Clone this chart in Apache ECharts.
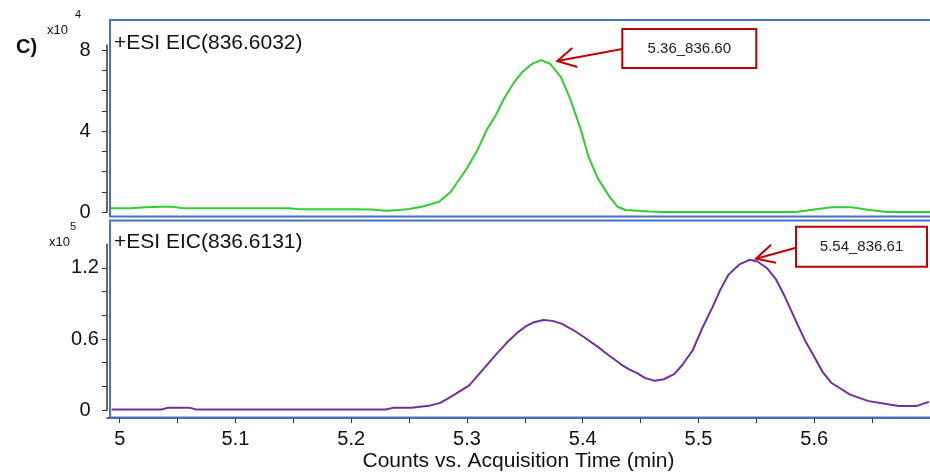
<!DOCTYPE html>
<html><head><meta charset="utf-8">
<script src="https://cdn.jsdelivr.net/npm/echarts@6/dist/echarts.min.js"></script>
<style>html,body{margin:0;padding:0;background:#fff}#c{width:930px;height:473px}</style>
</head><body><div id="c"></div>
<script>
// Top panel: +ESI EIC(836.6032), counts in units of 10^4
const greenTime = [4.992,5.010,5.022,5.036,5.045,5.055,5.100,5.146,5.155,5.200,5.218,5.230,5.241,5.250,5.261,5.276,5.286,5.300,5.309,5.317,5.325,5.332,5.341,5.348,5.356,5.364,5.372,5.381,5.389,5.398,5.405,5.413,5.423,5.430,5.437,5.457,5.470,5.584,5.600,5.615,5.632,5.648,5.663,5.700];
const greenCounts = [0.18,0.18,0.24,0.26,0.26,0.19,0.18,0.18,0.13,0.13,0.12,0.06,0.10,0.15,0.26,0.51,1.0,2.16,3.06,4.05,4.79,5.61,6.43,6.93,7.31,7.5,7.31,6.68,5.61,4.13,2.73,1.66,0.76,0.26,0.10,0.02,0.0,0.0,0.12,0.23,0.23,0.10,0.0,0.0];
// Bottom panel: +ESI EIC(836.6131), counts in units of 10^5
const purpleTime = [4.993,5.036,5.042,5.060,5.066,5.230,5.236,5.252,5.267,5.277,5.287,5.302,5.316,5.326,5.335,5.344,5.351,5.358,5.366,5.374,5.382,5.391,5.401,5.413,5.423,5.433,5.440,5.447,5.454,5.462,5.470,5.479,5.486,5.495,5.503,5.512,5.519,5.526,5.535,5.544,5.551,5.559,5.567,5.575,5.584,5.592,5.600,5.607,5.615,5.631,5.647,5.665,5.673,5.688,5.699];
const purpleCounts = [0.005,0.005,0.02,0.02,0.005,0.005,0.018,0.02,0.035,0.06,0.117,0.208,0.367,0.478,0.575,0.658,0.708,0.742,0.761,0.753,0.728,0.68,0.617,0.533,0.458,0.386,0.344,0.311,0.269,0.247,0.26,0.303,0.38,0.505,0.686,0.867,1.019,1.144,1.228,1.269,1.255,1.2,1.103,0.95,0.755,0.588,0.45,0.325,0.228,0.13,0.075,0.047,0.033,0.033,0.069];

const xTickValues = [5,5.05,5.1,5.15,5.2,5.25,5.3,5.35,5.4,5.45,5.5,5.55,5.6,5.65];
const xLabelValues = [5,5.1,5.2,5.3,5.4,5.5,5.6];
const topTickValues = [0,1,2,3,4,5,6,7,8];
const topLabelValues = [0,4,8];
const bottomTickValues = [0,0.2,0.4,0.6,0.8,1.0,1.2];
const bottomLabelValues = [0,0.6,1.2];
const panelTitles = ['+ESI EIC(836.6032)', '+ESI EIC(836.6131)'];
const exponents = ['4', '5'];
const annotationTexts = ['5.36_836.60', '5.54_836.61'];
const annotationAt = [[5.378, 7.46], [5.5497, 1.278]];
const xAxisTitle = 'Counts vs. Acquisition Time (min)';
const panelLetter = 'C)';

const FONT = '"Liberation Sans", Arial, sans-serif';
const BLUE = '#4472c4';
const RED = '#c00000';
const AXIS = '#333';

const chart = echarts.init(document.getElementById('c'), null, {renderer: 'canvas'});

function yAxisCfg(gridIndex, max, ticks, labels) {
  return {
    type: 'value', gridIndex, min: 0, max,
    axisLine: {show: true, lineStyle: {color: AXIS, width: 1.5}},
    axisTick: {show: true, length: 5, customValues: ticks, lineStyle: {color: AXIS, width: 1}},
    axisLabel: {show: true, customValues: labels, margin: 22, align: 'center',
      fontSize: 20, fontFamily: FONT, color: '#111'},
    splitLine: {show: false}
  };
}

chart.setOption({
  animation: false,
  backgroundColor: '#fff',
  grid: [
    {left: 107, width: 823, top: 45, height: 167},
    {left: 107, width: 823, top: 244.3, height: 168}
  ],
  xAxis: [
    {type: 'value', gridIndex: 0, min: 4.989, max: 5.7, show: false},
    {type: 'value', gridIndex: 1, min: 4.989, max: 5.7, offset: 8,
      axisLine: {show: true, onZero: false, lineStyle: {color: AXIS, width: 1.5}},
      axisTick: {show: true, length: 5, customValues: xTickValues, lineStyle: {color: AXIS, width: 1}},
      axisLabel: {show: true, customValues: xLabelValues, margin: 11, fontSize: 20, fontFamily: FONT, color: '#111'},
      splitLine: {show: false},
      name: xAxisTitle, nameLocation: 'middle', nameGap: 33,
      nameTextStyle: {fontSize: 21, fontFamily: FONT, color: '#111'}
    }
  ],
  yAxis: [
    yAxisCfg(0, 8.25, topTickValues, topLabelValues),
    yAxisCfg(1, 1.4, bottomTickValues, bottomLabelValues)
  ],
  series: [
    {type: 'line', xAxisIndex: 0, yAxisIndex: 0, showSymbol: false, symbol: 'none',
      data: greenTime.map((t, i) => [t, greenCounts[i]]),
      lineStyle: {color: '#33cc33', width: 2}, z: 3},
    {type: 'line', xAxisIndex: 1, yAxisIndex: 1, showSymbol: false, symbol: 'none',
      data: purpleTime.map((t, i) => [t, purpleCounts[i]]),
      lineStyle: {color: '#7030a0', width: 2}, z: 3}
  ]
});

const g = [];
// panel frames
g.push({type: 'rect', shape: {x: 110, y: 20, width: 822, height: 196.5}, style: {fill: null, stroke: BLUE, lineWidth: 2}, z: 1});
g.push({type: 'rect', shape: {x: 110, y: 220.5, width: 822, height: 197}, style: {fill: null, stroke: BLUE, lineWidth: 2}, z: 1});
// panel titles
[43, 242].forEach((y, i) => {
  g.push({type: 'text', x: 114, y, style: {text: panelTitles[i], fontSize: 21, fontFamily: FONT, fill: '#111', align: 'left', verticalAlign: 'middle'}, z: 5});
});
// letter
g.push({type: 'text', x: 16, y: 47, style: {text: panelLetter, fontSize: 20, fontWeight: 'bold', fontFamily: FONT, fill: '#111', align: 'left', verticalAlign: 'middle'}, z: 5});
// multipliers
g.push({type: 'text', x: 47, y: 30, style: {text: 'x10', fontSize: 13, fontFamily: FONT, fill: '#111', align: 'left', verticalAlign: 'middle'}, z: 5});
g.push({type: 'text', x: 75, y: 15, style: {text: exponents[0], fontSize: 11, fontFamily: FONT, fill: '#111', align: 'left', verticalAlign: 'middle'}, z: 5});
g.push({type: 'text', x: 49, y: 242, style: {text: 'x10', fontSize: 13, fontFamily: FONT, fill: '#111', align: 'left', verticalAlign: 'middle'}, z: 5});
g.push({type: 'text', x: 70, y: 227, style: {text: exponents[1], fontSize: 11, fontFamily: FONT, fill: '#111', align: 'left', verticalAlign: 'middle'}, z: 5});

// annotations, anchored at data coordinates
const boxes = [
  {dx: 65, dy: -32, w: 134, h: 39, ly: -12, a1: [15, -13], a2: [20, 6]},
  {dx: 40, dy: -32, w: 131, h: 40, ly: -11, a1: [15, -14], a2: [20, 4]}
];
annotationAt.forEach((at, i) => {
  const p = chart.convertToPixel({xAxisIndex: i, yAxisIndex: i}, at);
  const b = boxes[i];
  const bx = p[0] + b.dx, by = p[1] + b.dy;
  g.push({type: 'rect', shape: {x: bx, y: by, width: b.w, height: b.h}, style: {fill: '#fff', stroke: RED, lineWidth: 2}, z: 6});
  g.push({type: 'text', x: bx + b.w / 2, y: by + b.h / 2, style: {text: annotationTexts[i], fontSize: 15, fontFamily: FONT, fill: '#222', align: 'center', verticalAlign: 'middle'}, z: 7});
  g.push({type: 'line', shape: {x1: bx, y1: p[1] + b.ly, x2: p[0], y2: p[1]}, style: {stroke: RED, lineWidth: 2}, z: 6});
  g.push({type: 'polyline', shape: {points: [[p[0] + b.a1[0], p[1] + b.a1[1]], [p[0], p[1]], [p[0] + b.a2[0], p[1] + b.a2[1]]]}, style: {stroke: RED, lineWidth: 2, fill: null}, z: 6});
});
chart.setOption({graphic: g});
</script>
</body></html>
